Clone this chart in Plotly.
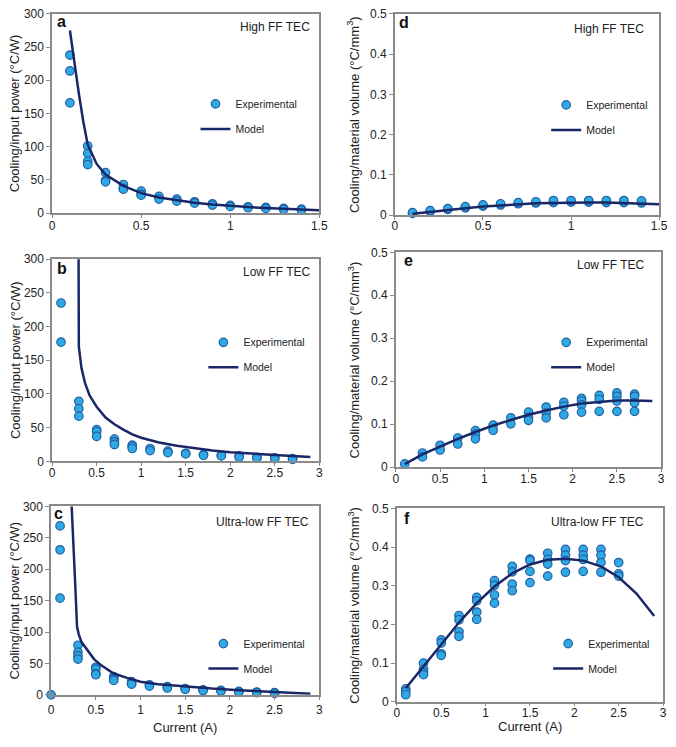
import plotly.graph_objects as go

W, H = 676, 747
FONT = "Liberation Sans, Arial, Helvetica, sans-serif"

# ---------------- data ----------------
# Panel a: High FF TEC, cooling/input power
a_exp_x = [0.1, 0.1, 0.1, 0.2, 0.2, 0.2, 0.2, 0.3, 0.3, 0.3, 0.4, 0.4, 0.4, 0.5, 0.5, 0.5,
           0.6, 0.6, 0.7, 0.7, 0.8, 0.8, 0.9, 0.9, 1.0, 1.0, 1.1, 1.1, 1.2, 1.2, 1.3, 1.3, 1.4, 1.4]
a_exp_y = [238, 214, 166, 101, 90, 78, 73, 61, 49, 47, 43, 37, 36, 33, 28, 27,
           25, 21, 21, 18, 17, 15, 14, 12, 11.5, 10, 9.5, 8, 8.5, 7, 7, 5.5, 6, 4.5]
a_mod_x = [0.1, 0.125, 0.15, 0.175, 0.2, 0.25, 0.3, 0.4, 0.5, 0.6, 0.7, 0.8, 0.9, 1.0, 1.1, 1.2, 1.3, 1.4, 1.5]
a_mod_y = [275, 225, 180, 138, 103, 74, 58, 41, 30, 23.5, 19, 15.5, 12.8, 10.6, 9, 7.6, 6.4, 5.2, 4.2]

# Panel b: Low FF TEC, cooling/input power
b_exp_x = [0.1, 0.1, 0.3, 0.3, 0.3, 0.5, 0.5, 0.5, 0.7, 0.7, 0.7, 0.9, 0.9, 0.9, 1.1, 1.1,
           1.3, 1.3, 1.5, 1.5, 1.7, 1.7, 1.9, 1.9, 2.1, 2.1, 2.3, 2.3, 2.5, 2.5, 2.7, 2.7]
b_exp_y = [235, 177, 89, 78, 67, 47, 44, 37, 33, 29, 25, 24, 22, 19, 19, 16,
           15, 13, 12, 11, 10, 9, 9, 8, 8, 6, 6, 5, 5, 4, 4, 3]
b_mod_x = [0.295, 0.30, 0.33, 0.37, 0.42, 0.5, 0.6, 0.7, 0.8, 0.9, 1.0, 1.2, 1.4, 1.6, 1.8, 2.0,
           2.2, 2.4, 2.6, 2.8, 2.9]
b_mod_y = [400, 170, 138, 116, 98, 81, 65, 55, 47, 40, 35, 28, 23, 19, 16, 13.5,
           11.5, 10, 8.5, 7, 6.3]

# Panel c: Ultra-low FF TEC, cooling/input power
c_exp_x = [0.0, 0.1, 0.1, 0.1, 0.3, 0.3, 0.3, 0.3, 0.5, 0.5, 0.5, 0.5, 0.7, 0.7, 0.7,
           0.9, 0.9, 0.9, 1.1, 1.1, 1.3, 1.3, 1.5, 1.5, 1.7, 1.7, 1.9, 1.9, 2.1, 2.1, 2.3, 2.3, 2.5, 2.5]
c_exp_y = [0, 269, 231, 154, 79, 68, 62, 57, 44, 41, 34, 32, 29, 26, 23,
           21, 18, 17, 16, 14, 13, 11, 10, 9, 8, 7, 7, 6, 5.5, 4.5, 4.5, 3.5, 3.5, 2.5]
c_mod_x = [0.22, 0.25, 0.27, 0.29, 0.31, 0.34, 0.4, 0.48, 0.56, 0.7, 0.85, 1.0, 1.2, 1.5, 1.8,
           2.1, 2.4, 2.7, 2.9]
c_mod_y = [330, 250, 175, 108, 96, 84, 72, 57, 47, 34, 27, 21, 17, 13, 10,
           7.5, 5, 3, 1.8]

# Panel d: High FF TEC, cooling/material volume
d_exp_x = [0.1, 0.1, 0.2, 0.2, 0.3, 0.3, 0.4, 0.4, 0.5, 0.5, 0.6, 0.6, 0.7, 0.7,
           0.8, 0.8, 0.9, 0.9, 1.0, 1.0, 1.1, 1.1, 1.2, 1.2, 1.3, 1.3, 1.4, 1.4]
d_exp_y = [0.004, 0.006, 0.009, 0.011, 0.014, 0.016, 0.018, 0.021, 0.022, 0.025, 0.025, 0.028,
           0.028, 0.031, 0.030, 0.033, 0.031, 0.036, 0.032, 0.036, 0.032, 0.036, 0.031, 0.036,
           0.031, 0.036, 0.030, 0.035]
d_mod_x = [0.1, 0.2, 0.3, 0.4, 0.5, 0.6, 0.7, 0.8, 0.9, 1.0, 1.1, 1.2, 1.3, 1.4, 1.5]
d_mod_y = [0.003, 0.008, 0.013, 0.017, 0.021, 0.024, 0.027, 0.029, 0.030, 0.031, 0.031,
           0.031, 0.030, 0.029, 0.027]

# Panel e: Low FF TEC, cooling/material volume
e_exp_x = [0.1, 0.3, 0.3, 0.5, 0.5, 0.7, 0.7, 0.9, 0.9, 0.9, 1.1, 1.1, 1.3, 1.3,
           1.5, 1.5, 1.5, 1.7, 1.7, 1.7, 1.9, 1.9, 1.9, 2.1, 2.1, 2.1, 2.1,
           2.3, 2.3, 2.3, 2.5, 2.5, 2.5, 2.5, 2.7, 2.7, 2.7, 2.7]
e_exp_y = [0.0076, 0.033, 0.024, 0.051, 0.040, 0.068, 0.054, 0.085, 0.077, 0.066, 0.098, 0.086,
           0.115, 0.101, 0.128, 0.116, 0.109, 0.140, 0.126, 0.115, 0.151, 0.142, 0.122,
           0.160, 0.154, 0.145, 0.128, 0.167, 0.158, 0.130, 0.173, 0.165, 0.154, 0.130,
           0.170, 0.165, 0.150, 0.130]
e_mod_x = [0.1, 0.3, 0.5, 0.7, 0.9, 1.1, 1.3, 1.5, 1.7, 1.9, 2.1, 2.3, 2.5, 2.7, 2.9]
e_mod_y = [0.007, 0.030, 0.048, 0.066, 0.082, 0.097, 0.110, 0.122, 0.132, 0.141, 0.148,
           0.152, 0.155, 0.155, 0.154]

# Panel f: Ultra-low FF TEC, cooling/material volume
f_exp_x = [0.1, 0.1, 0.1, 0.3, 0.3, 0.3, 0.3, 0.5, 0.5, 0.5, 0.5, 0.7, 0.7, 0.7, 0.7,
           0.9, 0.9, 0.9, 0.9, 1.1, 1.1, 1.1, 1.1, 1.3, 1.3, 1.3, 1.3, 1.5, 1.5, 1.5, 1.5,
           1.7, 1.7, 1.7, 1.7, 1.9, 1.9, 1.9, 1.9, 2.1, 2.1, 2.1, 2.1, 2.3, 2.3, 2.3, 2.3,
           2.5, 2.5, 2.5]
f_exp_y = [0.033, 0.027, 0.018, 0.100, 0.084, 0.076, 0.070, 0.160, 0.152, 0.124, 0.120,
           0.223, 0.212, 0.181, 0.169, 0.270, 0.261, 0.232, 0.213, 0.313, 0.301, 0.276, 0.255,
           0.350, 0.336, 0.304, 0.287, 0.369, 0.365, 0.337, 0.308, 0.384, 0.368, 0.356, 0.325,
           0.394, 0.379, 0.365, 0.335, 0.394, 0.379, 0.368, 0.337, 0.394, 0.379, 0.360, 0.335,
           0.360, 0.331, 0.325]
f_mod_x = [0.1, 0.3, 0.5, 0.7, 0.9, 1.1, 1.3, 1.5, 1.7, 1.9, 2.1, 2.3, 2.5, 2.7, 2.9]
f_mod_y = [0.035, 0.090, 0.148, 0.205, 0.255, 0.298, 0.332, 0.355, 0.367, 0.370, 0.365,
           0.350, 0.322, 0.280, 0.222]

panel_letters = ["a", "b", "c", "d", "e", "f"]
panel_titles = ["High FF TEC", "Low FF TEC", "Ultra-low FF TEC",
                "High FF TEC", "Low FF TEC", "Ultra-low FF TEC"]
x_ranges = [[0, 1.5], [0, 3], [0, 3], [0, 1.5], [0, 3], [0, 3]]
y_ranges = [[0, 300], [0, 300], [0, 300], [0, 0.5], [0, 0.5], [0, 0.5]]
x_dticks = [0.5, 0.5, 0.5, 0.5, 0.5, 0.5]
y_dticks = [50, 50, 50, 0.1, 0.1, 0.1]
left_title = "Cooling/input power (°C/W)"
right_title = "Cooling/material volume (°C/mm<sup>3</sup>)"
x_title = "Current (A)"

series = [
    (a_exp_x, a_exp_y, a_mod_x, a_mod_y),
    (b_exp_x, b_exp_y, b_mod_x, b_mod_y),
    (c_exp_x, c_exp_y, c_mod_x, c_mod_y),
    (d_exp_x, d_exp_y, d_mod_x, d_mod_y),
    (e_exp_x, e_exp_y, e_mod_x, e_mod_y),
    (f_exp_x, f_exp_y, f_mod_x, f_mod_y),
]

# ---------------- layout (pixel positions) ----------------
boxes = [
    (50, 322, 7, 210),
    (50, 322, 257, 463),
    (49, 322, 509, 701),
    (399, 668, 7, 212),
    (400, 670, 250, 469),
    (401, 672, 511, 708),
]
x_label_standoff = [-2, -3, 0, -4, -3, -4]
legend_pos = [(196, 84), (204, 327), (204, 634), (553, 85), (553, 327), (555, 634)]
letter_pos = [(60, 17), (60, 269), (57, 518), (408, 18), (413, 260), (411, 523)]
title_pos = [(315, 20), (315, 270), (314, 525), (655, 22), (655, 263), (655, 525)]
xtitle_y = [734, 733]

def px(x):
    return x / W

def py(y):
    return 1 - y / H

MARK = "#2fa9e4"
MARK_LINE = "#2160a5"
LINE = "#1a2767"
AX = "#8a8a8a"

fig = go.Figure()
layout = dict(
    width=W, height=H,
    margin=dict(l=0, r=0, t=0, b=0),
    paper_bgcolor="white", plot_bgcolor="white",
    font=dict(family=FONT, color="#222", size=12),
    showlegend=True,
)
annotations = []

for i in range(6):
    n = "" if i == 0 else str(i + 1)
    xa, ya = "x" + n, "y" + n
    leg = "legend" + n
    ex, ey, mx, my = series[i]
    fig.add_trace(go.Scatter(
        x=ex, y=ey, mode="markers", name="Experimental",
        xaxis=xa, yaxis=ya, legend=leg, legendgroup="exp" + n,
        cliponaxis=False,
        marker=dict(size=8.5, color=MARK, line=dict(color=MARK_LINE, width=1.2)),
    ))
    fig.add_trace(go.Scatter(
        x=mx, y=my, mode="lines", name="Model",
        xaxis=xa, yaxis=ya, legend=leg, legendgroup="mod" + n,
        line=dict(color=LINE, width=2.5),
    ))
    l, r, t, b = boxes[i]
    axis_common = dict(
        showline=True, mirror=True, linecolor=AX, linewidth=1.5,
        ticks="outside", tickcolor=AX, tickwidth=1,
        showgrid=False, zeroline=False, ticklabeloverflow="allow",
        tickfont=dict(size=12, color="#222", family=FONT),
    )
    layout["xaxis" + n] = dict(
        domain=[px(l), px(r)], range=x_ranges[i], dtick=x_dticks[i], tick0=0,
        anchor=ya, ticklen=3, ticklabelstandoff=x_label_standoff[i], **axis_common)
    layout["yaxis" + n] = dict(
        domain=[py(b), py(t)], range=y_ranges[i], dtick=y_dticks[i], tick0=0,
        anchor=xa, ticklen=4, **axis_common)
    lx, ly = legend_pos[i]
    layout[leg] = dict(
        x=px(lx), y=py(ly), xanchor="left", yanchor="top",
        bgcolor="rgba(0,0,0,0)", borderwidth=0,
        font=dict(size=10.5, color="#222", family=FONT),
        tracegroupgap=6, itemwidth=30,
    )
    lx, ly = letter_pos[i]
    annotations.append(dict(
        x=px(lx), y=py(ly - 2), xref="paper", yref="paper",
        xanchor="center", yanchor="middle", showarrow=False,
        text="<b>" + panel_letters[i] + "</b>",
        font=dict(size=16, color="#111", family=FONT)))
    tx, ty = title_pos[i]
    annotations.append(dict(
        x=px(tx), y=py(ty), xref="paper", yref="paper",
        xanchor="right", yanchor="middle", showarrow=False,
        text=panel_titles[i], font=dict(size=12, color="#222", family=FONT)))
    ytitle = left_title if i < 3 else right_title
    tx = 12 if i < 3 else 357
    annotations.append(dict(
        x=px(tx), y=py((t + b) / 2), xref="paper", yref="paper",
        xanchor="center", yanchor="middle", showarrow=False, textangle=-90,
        text=ytitle, font=dict(size=13, color="#222", family=FONT)))

annotations.append(dict(x=px((49 + 322) / 2), y=py(xtitle_y[0]), xref="paper", yref="paper",
                        xanchor="center", yanchor="middle",
                        showarrow=False, text=x_title,
                        font=dict(size=13, color="#222", family=FONT)))
annotations.append(dict(x=px((401 + 672) / 2), y=py(xtitle_y[1]), xref="paper", yref="paper",
                        xanchor="center", yanchor="middle",
                        showarrow=False, text=x_title,
                        font=dict(size=13, color="#222", family=FONT)))
layout["annotations"] = annotations
fig.update_layout(**layout)
fig.write_html("out.html", config={"displayModeBar": False},
               post_script="document.body.style.margin='0';document.body.style.overflow='hidden';")
